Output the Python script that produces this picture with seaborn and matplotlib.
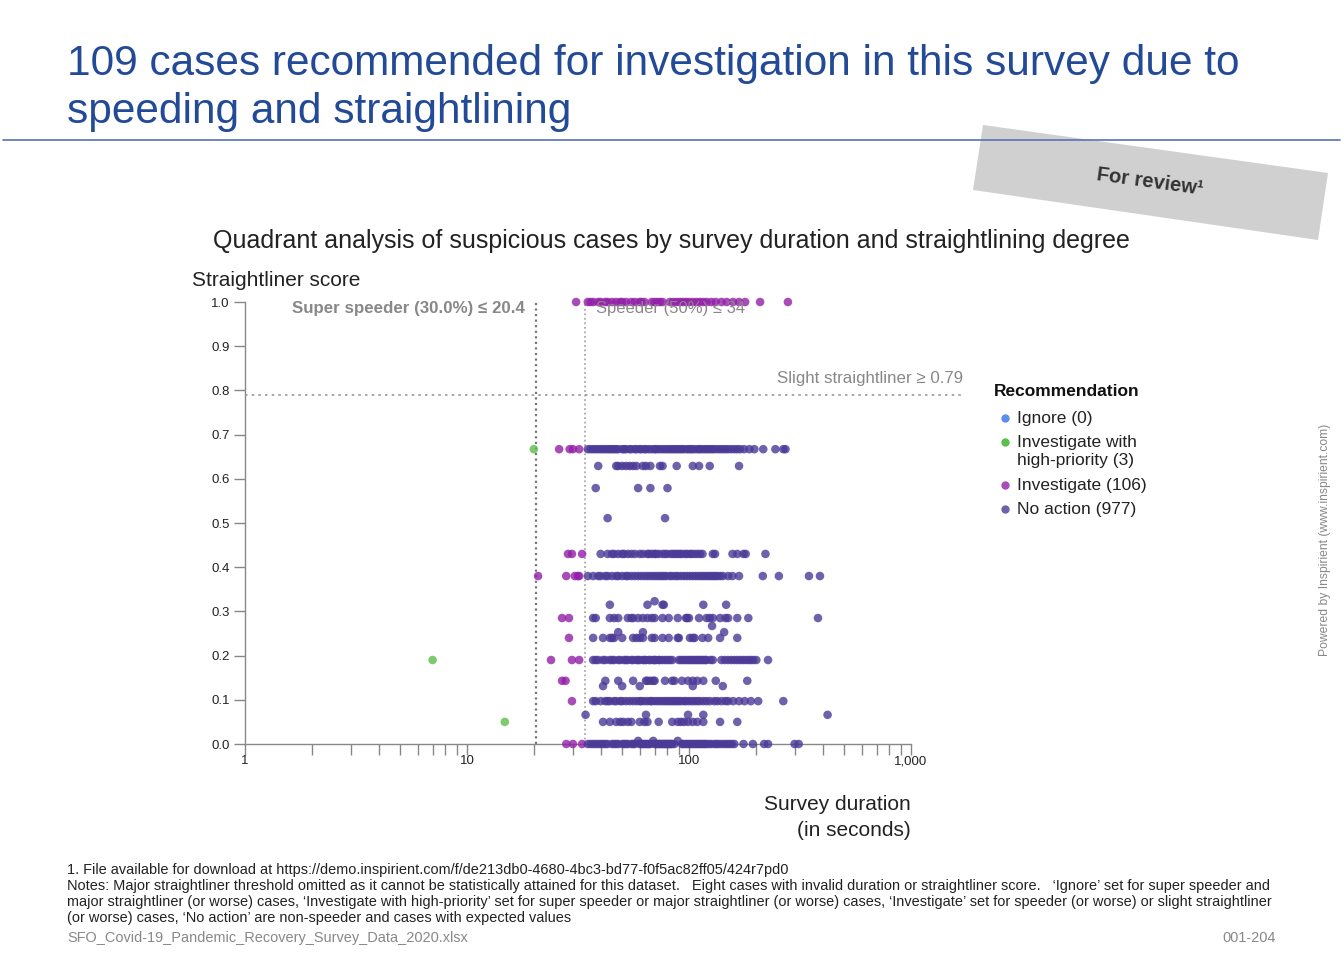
import numpy as np
import pandas as pd
import seaborn as sns
import matplotlib
matplotlib.use("Agg")
import matplotlib.pyplot as plt
import matplotlib.ticker as ticker
from matplotlib.patches import Polygon
from matplotlib.lines import Line2D

# survey duration (seconds) of each case, grouped by straightliner score
row_100 = [31, 35, 36, 37, 39, 40, 42, 43, 45, 47, 49, 50, 52, 55, 57, 60, 61, 63, 68, 70,
           72, 74, 76, 82, 85, 88, 91, 94, 97, 100, 104, 108, 112, 116, 120, 126, 132, 140,
           148, 158, 168, 179, 209, 279]
row_067 = [20, 26, 29, 30, 32, 35, 36, 37, 38, 39, 40, 41, 42, 43, 44, 45, 46, 47, 48, 50, 51,
           52, 54, 55, 57, 58, 60, 61, 63, 64, 66, 68, 70, 71, 73, 75, 77, 79, 81, 83, 85, 87,
           89, 91, 93, 95, 98, 100, 102, 104, 107, 110, 112, 115, 118, 121, 124, 127, 130, 134,
           138, 142, 146, 150, 155, 160, 165, 170, 177, 187, 197, 216, 245, 266, 272]
row_063 = [39, 47, 48, 50, 52, 54, 56, 58, 62, 64, 67, 74, 76, 88, 104, 111, 124, 168]
row_058 = [38, 59, 67, 80]
row_051 = [43, 78]
row_043 = [28.5, 29.7, 33, 40, 43, 45, 46, 48, 50, 51, 53, 55, 57, 60, 62, 65, 66, 68, 70, 71,
           73, 76, 78, 80, 83, 85, 87, 89, 91, 93, 96, 98, 101, 103, 106, 109, 112, 115, 128,
           131, 157, 165, 176, 180, 221]
row_038 = [20.9, 28, 30.6, 31.6, 32, 35, 37, 39, 40, 42, 43, 45, 47, 48, 50, 52, 53, 55, 57,
           59, 61, 63, 65, 67, 69, 71, 73, 75, 77, 79, 82, 84, 87, 89, 92, 95, 98, 101, 104,
           107, 110, 113, 116, 119, 122, 125, 128, 131, 134, 138, 142, 150, 157, 168, 215,
           254, 347, 389]
row_032 = [44, 65, 76, 77, 116, 147]
row_0323 = [70]
row_029 = [26.8, 28.8, 37, 38, 44, 46, 48, 53, 55, 56, 59, 62, 65, 68, 70, 76, 81, 89, 97,
           98, 100, 111, 120, 124, 128, 138, 146, 150, 165, 185, 381]
row_027 = [127]
row_025 = [48, 62, 144]
row_024 = [28.8, 37, 41, 44, 45, 46, 50, 56, 58, 60, 62, 68, 70, 76, 81, 89, 90, 101, 104,
           106, 115, 122, 138, 165]
row_019 = [7, 23.9, 29.7, 32, 37, 38, 39, 41, 42, 44, 45, 46, 48, 49, 51, 52, 53, 55, 56, 58,
           59, 60, 62, 63, 64, 66, 67, 69, 70, 71, 73, 74, 76, 78, 80, 82, 84, 90, 92, 94, 96,
           98, 100, 102, 104, 106, 108, 110, 112, 114, 116, 118, 120, 125, 128, 140, 145, 150,
           155, 160, 165, 170, 175, 180, 185, 190, 195, 201, 227]
row_014 = [26.8, 27.8, 42, 48, 56, 64, 65, 67, 69, 70, 78, 84, 86, 93, 99, 104, 109, 116,
           132, 183]
row_013 = [41, 50, 60, 104, 142]
row_010 = [29.7, 37, 38, 40, 42, 43, 44, 46, 47, 49, 50, 52, 54, 56, 58, 60, 61, 63, 65, 67,
           68, 70, 72, 74, 76, 78, 80, 82, 84, 86, 88, 90, 92, 95, 97, 100, 103, 106, 109, 112,
           116, 120, 124, 130, 134, 140, 146, 150, 158, 168, 178, 190, 205, 266]
row_007 = [34.2, 64, 99, 116, 421]
row_005 = [14.8, 41, 44, 47, 49, 50.5, 53, 55, 60, 63, 65, 73, 84, 89, 92, 95, 99, 104, 109,
           116, 138, 165]
row_001 = [59, 69, 89]
row_000 = [28, 30, 33, 35, 36, 37, 38, 39, 40, 41, 42, 43, 45, 46, 47, 48, 50, 51, 52, 53, 55,
           56, 57, 60, 61, 62, 63, 64, 65, 66, 67, 70, 71, 72, 73, 74, 75, 76, 77, 78, 79, 80,
           81, 82, 83, 84, 86, 93, 94, 96, 98, 100, 102, 104, 106, 108, 110, 112, 114, 116,
           118, 120, 123, 126, 130, 133, 136, 140, 144, 148, 152, 156, 160, 176, 194, 218,
           227, 299, 312]

rows = [(1.0, row_100), (0.667, row_067), (0.629, row_063), (0.579, row_058), (0.511, row_051),
        (0.43, row_043), (0.38, row_038), (0.315, row_032), (0.323, row_0323),
        (0.285, row_029), (0.267, row_027), (0.253, row_025), (0.24, row_024),
        (0.19, row_019), (0.143, row_014), (0.131, row_013), (0.097, row_010),
        (0.066, row_007), (0.05, row_005), (0.007, row_001), (0.0, row_000)]

super_speeder = 20.4
speeder = 34
slight_straightliner = 0.79

categories = ["Ignore", "Investigate with high-priority", "Investigate", "No action"]
legend_labels = [["Ignore (0)"], ["Investigate with", "high-priority (3)"],
                 ["Investigate (106)"], ["No action (977)"]]
palette = {"Ignore": "#5b8ef0", "Investigate with high-priority": "#5cbf4a",
           "Investigate": "#931fa8", "No action": "#4b3a96"}
legend_colors = ["#5b8ef0", "#5cbf4a", "#a84cb9", "#6f61ab"]


def classify(d, s):
    if d <= super_speeder:
        return "Investigate with high-priority"
    if d <= speeder or s >= slight_straightliner:
        return "Investigate"
    return "No action"


recs = []
for score, durations in rows:
    for d in durations:
        recs.append({"duration": d, "score": score, "rec": classify(d, score)})
df = pd.DataFrame(recs)

sns.set_style("white")
plt.rcParams["font.family"] = ["Liberation Sans", "DejaVu Sans"]

W, H = 1344, 955
fig = plt.figure(figsize=(W / 100, H / 100), dpi=100)


def fx(px):
    return px / W


def fy(py):
    return 1 - py / H


# header
fig.text(fx(67), fy(75), "109 cases recommended for investigation in this survey due to",
         color="#234a97", fontsize=30.5, va="baseline", ha="left")
fig.text(fx(67), fy(123), "speeding and straightlining",
         color="#234a97", fontsize=30.5, va="baseline", ha="left")
fig.add_artist(Line2D([fx(3), fx(1340)], [fy(140), fy(140)], color="#5873b5", lw=1.2))

box = Polygon([(fx(983), fy(125)), (fx(1328), fy(173)), (fx(1318), fy(240)),
               (fx(973), fy(190))], closed=True, transform=fig.transFigure,
              facecolor="#d0d0d0", edgecolor="none")
fig.add_artist(box)
fig.text(fx(1150), fy(182), "For review\u00b9", rotation=-7.9, ha="center", va="center",
         fontsize=14.5, fontweight="bold", color="#333333")

fig.text(fx(671), fy(241), "Quadrant analysis of suspicious cases by survey duration and "
         "straightlining degree", ha="center", va="center", fontsize=18, color="#222222")

# main axes
ax = fig.add_axes([fx(245), fy(744), fx(911) - fx(245), fy(302) - fy(744)])
sns.scatterplot(data=df, x="duration", y="score", hue="rec", hue_order=categories,
                palette=palette, s=38, alpha=0.8, linewidth=0, legend=False,
                ax=ax, clip_on=False, zorder=3)
ax.set_xscale("log")
ax.set_xlim(1, 1000)
ax.set_ylim(0, 1)
for side in ["top", "right"]:
    ax.spines[side].set_visible(False)
for side in ["left", "bottom"]:
    ax.spines[side].set_color("#888888")
    ax.spines[side].set_linewidth(1)
ax.set_yticks(np.arange(0, 1.01, 0.1))
ax.yaxis.set_major_formatter(ticker.FormatStrFormatter("%.1f"))
ax.set_xticks([1, 10, 100, 1000])
ax.set_xticklabels(["1", "10", "100", "1,000"])
ax.xaxis.set_minor_locator(ticker.LogLocator(base=10, subs=np.arange(2, 10)))
ax.xaxis.set_minor_formatter(ticker.NullFormatter())
ax.tick_params(axis="both", which="both", direction="out", length=8, width=1,
               color="#888888", labelsize=9.5, labelcolor="#222222", pad=3,
               bottom=True, left=True)
ax.tick_params(axis="x", which="major", pad=0)
ax.set_xlabel("")
ax.set_ylabel("")

ax.axvline(super_speeder, color="#777777", lw=1.6, ls=(0, (1, 1.5)), zorder=1)
ax.axvline(speeder, color="#aaaaaa", lw=1.3, ls=(0, (1, 1.5)), zorder=1)
ax.axhline(slight_straightliner, xmin=0, xmax=(963 - 245) / (911 - 245), color="#999999",
           lw=1.2, ls=(0, (1.5, 2.5)), clip_on=False, zorder=1)

fig.text(fx(525), fy(309), "Super speeder (30.0%) \u2264 20.4", ha="right", va="center",
         fontsize=12.2, fontweight="bold", color="#888888")
fig.text(fx(596), fy(309), "Speeder (50%) \u2264 34", ha="left", va="center",
         fontsize=12, color="#888888", zorder=1)
fig.text(fx(963), fy(379), "Slight straightliner \u2265 0.79", ha="right", va="center",
         fontsize=12.2, color="#888888")

fig.text(fx(192), fy(280), "Straightliner score", ha="left", va="center", fontsize=15,
         color="#222222")
fig.text(fx(911), fy(805), "Survey duration", ha="right", va="center",
         fontsize=15, color="#222222")
fig.text(fx(911), fy(830), "(in seconds)", ha="right", va="center",
         fontsize=15, color="#222222")

# legend
fig.text(fx(994), fy(391), "Recommendation", ha="left", va="center", fontsize=12.5,
         fontweight="bold", color="#111111")
legend_y = [418, 442, 485, 509]
for lines, col, yy in zip(legend_labels, legend_colors, legend_y):
    fig.add_artist(Line2D([fx(1005)], [fy(yy)], marker="o", ms=6, color=col, lw=0,
                          markeredgewidth=0))
    for i, line in enumerate(lines):
        fig.text(fx(1017), fy(yy + 19 * i), line, ha="left", va="center",
                 fontsize=12.5, color="#222222")

fig.text(fx(1325), fy(540), "Powered by Inspirient (www.inspirient.com)", rotation=90,
         ha="center", va="center", fontsize=8.7, color="#888888")

# footnotes
notes = ["1. File available for download at https://demo.inspirient.com/f/de213db0-4680-4bc3-bd77-f0f5ac82ff05/424r7pd0",
         "Notes: Major straightliner threshold omitted as it cannot be statistically attained for this dataset.   "
         "Eight cases with invalid duration or straightliner score.   \u2018Ignore\u2019 set for super speeder and",
         "major straightliner (or worse) cases, \u2018Investigate with high-priority\u2019 set for super speeder or major "
         "straightliner (or worse) cases, \u2018Investigate\u2019 set for speeder (or worse) or slight straightliner",
         "(or worse) cases, \u2018No action\u2019 are non-speeder and cases with expected values"]
for i, line in enumerate(notes):
    fig.text(fx(67), fy(870 + 16 * i), line, ha="left", va="center", fontsize=10.45,
             color="#222222")
fig.text(fx(67), fy(938), "SFO_Covid-19_Pandemic_Recovery_Survey_Data_2020.xlsx", ha="left",
         va="center", fontsize=10.45, color="#888888")
fig.text(fx(1276), fy(938), "001-204", ha="right", va="center", fontsize=10.45,
         color="#888888")

fig.savefig("out.png", dpi=100)
